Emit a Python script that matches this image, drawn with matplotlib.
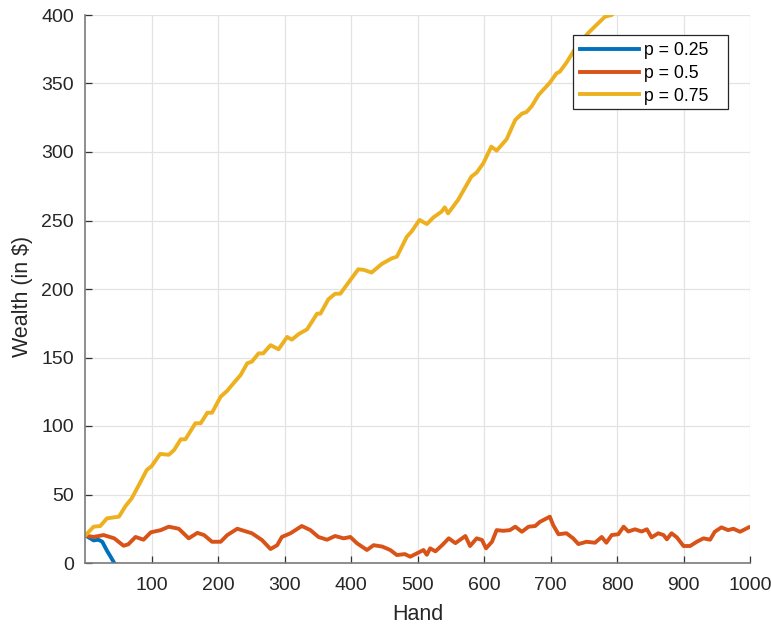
import matplotlib
matplotlib.use('Agg')
import matplotlib.pyplot as plt
from matplotlib.patches import Rectangle
import numpy as np

# --- values (hand, wealth) ---
hand_p25 = [1, 8, 13, 20, 26, 33, 38, 44]
wealth_p25 = [20, 18, 16.5, 17, 15.5, 9, 5, 0]

hand_p50 = [1, 13, 28, 44, 58, 65, 76, 88, 99, 114, 126, 141, 156, 169, 179, 191,
            204, 214, 229, 239, 251, 266, 279, 289, 296, 309, 326, 339, 351, 364,
            376, 389, 399, 409, 424, 434, 447, 459, 469, 481, 489, 499, 509, 514,
            519, 527, 537, 547, 557, 572, 579, 589, 597, 603, 612, 619, 629, 639,
            647, 657, 667, 677, 684, 699, 704, 712, 724, 734, 742, 754, 767, 777,
            784, 792, 802, 810, 817, 827, 837, 845, 852, 862, 870, 875, 882, 890,
            900, 910, 920, 930, 940, 947, 957, 967, 975, 985, 998]
wealth_p50 = [20, 19, 20.4, 18, 12.6, 13.6, 19, 17, 22.4, 24, 26.5, 25, 18, 22, 20.4, 15.5,
              15.5, 20.4, 25, 23.5, 21.7, 16.8, 10.2, 13, 19, 21.7, 27, 24, 19, 17,
              19.7, 18, 19, 14.4, 9.5, 13, 12, 9.5, 5.8, 6.5, 4.6, 7, 9.5, 6,
              10.7, 8.5, 13, 18, 14.5, 19.7, 12.4, 18, 16.8, 10.7, 15.5, 24, 23.5, 24,
              26.5, 22.8, 26.5, 27, 30, 33.8, 27.7, 21, 21.7, 18, 13.8, 15.5, 14.8, 19,
              14.8, 20.4, 21, 26.5, 23, 24.6, 23, 24.6, 18.7, 21.7, 20.4, 17.3, 21.7, 18.7,
              12.4, 12.4, 15.5, 18, 17, 22.8, 26, 24, 25, 22.8, 26]

hand_p75 = [1, 13, 23, 33, 51, 61, 70, 80, 93, 100, 113, 126, 134, 144, 151, 166,
            174, 184, 191, 204, 214, 224, 234, 244, 251, 261, 268, 279, 291, 304,
            311, 321, 334, 349, 354, 366, 376, 384, 396, 411, 419, 431, 446, 461,
            469, 484, 491, 503, 514, 524, 536, 541, 546, 561, 571, 581, 589, 599,
            611, 619, 634, 647, 657, 664, 672, 682, 699, 709, 714, 724, 739, 757,
            769, 782, 792, 796]
wealth_p75 = [20.4, 26.5, 27, 32.6, 33.8, 41.6, 47, 56, 68, 70.6, 79.6, 79, 82.5, 90.3, 90.3, 102,
              102, 109.7, 109.7, 121.4, 125.8, 131.6, 137.2, 145.8, 147, 153, 153, 159, 156, 165,
              163, 167, 170.6, 182, 182, 192.5, 196.5, 196.6, 204.6, 214.4, 214, 212, 218.2, 222.3,
              223.6, 238.2, 241.9, 250.4, 247.4, 252.3, 256.4, 259.6, 255.2, 265, 273.5, 282, 285, 291.8,
              303.9, 301, 309.3, 323.4, 328, 329.2, 333.6, 341.6, 350.6, 357.4, 358.6, 365.2, 377, 387,
              392.7, 398.8, 400, 402]

labels = ['p = 0.25', 'p = 0.5', 'p = 0.75']
colors = ['#0072BD', '#D95319', '#EDB120']

plt.rcParams['font.family'] = ['Liberation Sans', 'DejaVu Sans']

fig = plt.figure(figsize=(7.71, 6.29), dpi=100)
ax = fig.add_axes([85 / 771, 66 / 629, 665 / 771, 548 / 629])

for h, w, lab, col in zip([hand_p25, hand_p50, hand_p75],
                          [wealth_p25, wealth_p50, wealth_p75], labels, colors):
    ax.plot(h, w, color=col, linewidth=2.8, label=lab, solid_joinstyle='round')

ax.set_xlim(0, 1000)
ax.set_ylim(0, 400)
ax.set_xticks(np.arange(100, 1001, 100))
ax.set_yticks(np.arange(0, 401, 50))
ax.grid(True, color='#e3e3e3', linewidth=0.9)
ax.set_axisbelow(True)

for side in ['top', 'right']:
    ax.spines[side].set_visible(False)
for side in ['left', 'bottom']:
    ax.spines[side].set_color('#7a7a7a')
    ax.spines[side].set_linewidth(1.2)

ax.tick_params(direction='in', length=5, width=0.9, color='#333333',
               labelcolor='#262626', labelsize=14)
ax.tick_params(axis='x', pad=10)
ax.tick_params(axis='y', pad=8)
ax.set_xlabel('Hand', fontsize=15.5, color='#262626', labelpad=7)
ax.set_ylabel(r'Wealth (in \$)', fontsize=15.5, color='#262626')
ax.yaxis.set_label_coords(-0.078, 0.487)

# legend box drawn separately so its padding matches the MATLAB-style frame
box = Rectangle(((573 - 85) / 665, (563 - 109) / 548), 155 / 665, 74 / 548,
                transform=ax.transAxes, facecolor='white', edgecolor='#262626',
                linewidth=0.9, zorder=4)
ax.add_patch(box)
leg = ax.legend(loc='upper left', bbox_to_anchor=((580 - 85) / 665, (563 - 42) / 548),
                fontsize=12.7, frameon=False, handlelength=3.35, borderpad=0,
                labelspacing=0.33, handletextpad=0.3, borderaxespad=0)
leg.set_zorder(5)

fig.savefig('out.png', dpi=100)
